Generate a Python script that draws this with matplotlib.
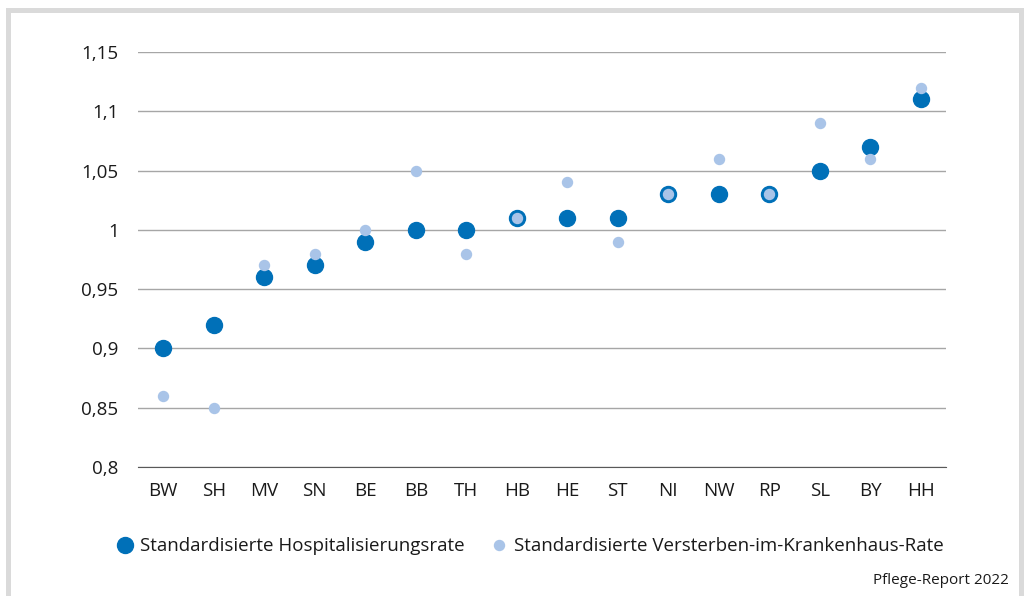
import matplotlib.pyplot as plt
from matplotlib.patches import Rectangle
from matplotlib.ticker import FuncFormatter

plt.rcParams['font.family'] = ['Open Sans', 'DejaVu Sans']

laender = ['BW', 'SH', 'MV', 'SN', 'BE', 'BB', 'TH', 'HB',
           'HE', 'ST', 'NI', 'NW', 'RP', 'SL', 'BY', 'HH']
hospitalisierung = [0.90, 0.92, 0.96, 0.97, 0.99, 1.00, 1.00, 1.01,
                    1.01, 1.01, 1.03, 1.03, 1.03, 1.05, 1.07, 1.11]
versterben = [0.86, 0.85, 0.97, 0.98, 1.00, 1.05, 0.98, 1.01,
              1.04, 0.99, 1.03, 1.06, 1.03, 1.09, 1.06, 1.12]
yticks = [0.8, 0.85, 0.9, 0.95, 1.0, 1.05, 1.1, 1.15]

dunkel = '#0070b8'
hell = '#a9c4e8'

fig = plt.figure(figsize=(10.24, 5.96), dpi=100)
W, H = 1024, 596

# grauer Rahmen
rahmen = '#dadada'
for x, y, w, h in [(6, 8, 1018, 5), (6, 8, 5, 588), (1019, 8, 5, 588)]:
    fig.patches.append(Rectangle((x / W, 1 - (y + h) / H), w / W, h / H,
                                 transform=fig.transFigure, color=rahmen, lw=0))

ax = fig.add_axes([138 / W, 1 - 467 / H, (946 - 138) / W, (467 - 52) / H])
x = range(len(laender))
ax.plot(x, hospitalisierung, 'o', ms=11.5, color=dunkel, mec=dunkel, zorder=3,
        label='Standardisierte Hospitalisierungsrate')
ax.plot(x, versterben, 'o', ms=7.2, color=hell, mec=hell, zorder=4,
        label='Standardisierte Versterben-im-Krankenhaus-Rate')

ax.set_xlim(-0.5, len(laender) - 0.5)
ax.set_ylim(0.8, 1.15)
ax.set_yticks(yticks)
ax.yaxis.set_major_formatter(FuncFormatter(lambda v, p: f'{v:g}'.replace('.', ',')))
ax.set_xticks(list(x))
ax.set_xticklabels(laender)
ax.grid(axis='y', color='#a6a6a6', lw=1)
ax.set_axisbelow(True)
for s in ['top', 'right', 'left']:
    ax.spines[s].set_visible(False)
ax.spines['bottom'].set_color('#595959')
ax.tick_params(length=0, labelsize=13.5, colors='#1a1a1a')
ax.tick_params(axis='y', pad=14)
ax.tick_params(axis='x', pad=11)

ax.legend(loc='upper left', bbox_to_anchor=(105 / W, 1 - 528 / H),
          bbox_transform=fig.transFigure, ncol=2, frameon=False,
          fontsize=13.5, handletextpad=0.25, columnspacing=1.3,
          borderpad=0, handlelength=1.1, labelcolor='#1a1a1a')

fig.text(1009 / W, 1 - 581 / H, 'Pflege-Report 2022', ha='right', va='center',
         fontsize=11, color='#1a1a1a')

fig.savefig('out.png', dpi=100)
